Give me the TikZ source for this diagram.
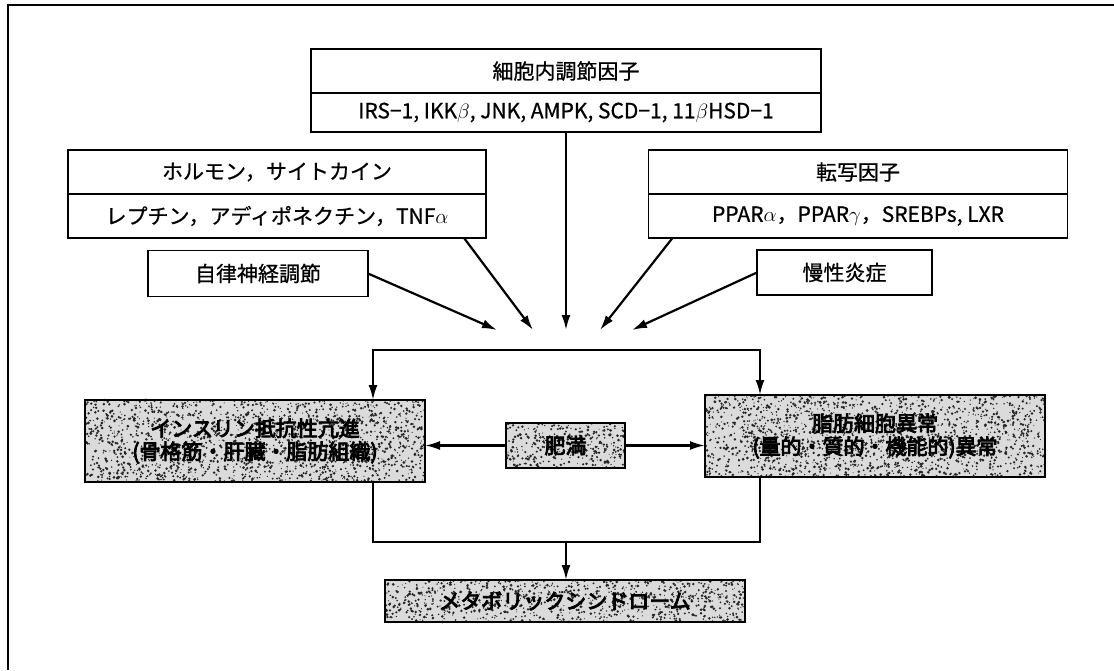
\documentclass[tikz,border=0pt]{standalone}
\usepackage{fontspec}
\setmainfont[FakeBold=0.7]{Noto Sans CJK JP}
\newfontfamily\cjkheavy[FakeBold=4]{Noto Sans CJK JP}
\usetikzlibrary{arrows.meta,calc}
\newcommand\mySpeckle[5]{%
  \foreach \k in {1,...,#5}{%
    \pgfmathsetmacro\px{#1+#3*rnd}%
    \pgfmathsetmacro\py{#2+#4*rnd}%
    \pgfmathsetmacro\rr{0.5+1.0*rnd}%
    \fill[black!85] (\px,\py) circle[radius=\rr pt];
  }}
\begin{document}
\begin{tikzpicture}[x=1pt,y=-1pt,
  every node/.style={inner sep=0pt,outer sep=0pt},
  txt/.style={font=\fontsize{21}{24}\selectfont},
  plainbox/.style={draw,line width=1.5pt,fill=white,txt},
  shadebox/.style={draw,line width=1.8pt,font=\cjkheavy\fontsize{21}{24}\selectfont,align=center},
  arr/.style={line width=2.2pt,-{Latex[length=15pt,width=9pt]}},
  link/.style={line width=2.2pt}]
\useasboundingbox (0,0) rectangle (1114,670);
\pgfmathsetseed{4711}
% frame
\draw[line width=1.5pt] (8,670) -- (8,5) -- (1114,5);

% upper boxes
\node[plainbox,minimum width=510pt,minimum height=44pt] (ciT) at (566,71) {細胞内調節因子};
\node[plainbox,minimum width=510pt,minimum height=39pt] (ciB) at (566,112.5) {IRS−1, IKK$\beta$, JNK, AMPK, SCD−1, 11$\beta$HSD−1};

\node[plainbox,minimum width=418pt,minimum height=44pt] (hT) at (277,172) {ホルモン，サイトカイン};
\node[plainbox,minimum width=418pt,minimum height=44pt] (hB) at (277,216) {レプチン，アディポネクチン，TNF$\alpha$};

\node[plainbox,minimum width=419pt,minimum height=44pt] (tT) at (858,172) {転写因子};
\node[plainbox,minimum width=419pt,minimum height=44pt] (tB) at (858,216) {PPAR$\alpha$，PPAR$\gamma$，SREBPs, LXR};

\node[plainbox,minimum width=220pt,minimum height=46pt] (jiritsu) at (258,273.5) {自律神経調節};
\node[plainbox,minimum width=175pt,minimum height=45pt] (mansei) at (844.5,272.5) {慢性炎症};

% arrows to the centre
\coordinate (tipA) at (497,330);
\coordinate (tipB) at (533,330);
\coordinate (tipC) at (566,330);
\coordinate (tipD) at (600,330);
\coordinate (tipE) at (632,330);
\draw[arr] (jiritsu.east) -- (tipA);
\draw[arr] ([xshift=-22pt]hB.south east) -- (tipB);
\draw[arr] (ciB.south) -- (tipC);
\draw[arr] ([xshift=24pt]tB.south west) -- (tipD);
\draw[arr] (mansei.west) -- (tipE);

% shaded boxes (background + speckles)
\fill[gray!28] (85,400) rectangle (425,482);
\mySpeckle{85}{400}{340}{82}{1700}
\fill[gray!28] (705,395) rectangle (1045,477);
\mySpeckle{705}{395}{340}{82}{1700}
\fill[gray!28] (506,423) rectangle (625,468);
\mySpeckle{506}{423}{119}{45}{330}
\fill[gray!28] (385,580) rectangle (745,622);
\mySpeckle{385}{580}{360}{42}{930}

\node[shadebox,minimum width=340pt,minimum height=82pt] (lbox) at (255,441)
  {インスリン抵抗性亢進\\[-1pt](骨格筋・肝臓・脂肪組織)};
\node[shadebox,minimum width=340pt,minimum height=82pt] (rbox) at (875,436)
  {脂肪細胞異常\\[-1pt](量的・質的・機能的)異常};
\node[shadebox,minimum width=119pt,minimum height=45pt] (obes) at (565.5,445.5) {肥満};
\node[shadebox,minimum width=360pt,minimum height=42pt] (mets) at (565,601) {メタボリックシンドローム};

% split
\coordinate (splitL) at (373,350);
\coordinate (splitR) at (760,350);
\draw[link] ([xshift=-1.1pt]splitL) -- ([xshift=1.1pt]splitR);
\draw[arr] (splitL) -- (splitL |- lbox.north);
\draw[arr] (splitR) -- (splitR |- rbox.north);

% obesity arrows
\draw[arr] (obes.west) -- (obes.west -| lbox.east);
\draw[arr] (obes.east) -- (obes.east -| rbox.west);

% merge
\coordinate (mergeL) at (373,542);
\coordinate (mergeR) at (760,542);
\coordinate (mergeC) at (566,542);
\draw[link,line join=miter] (mergeL |- lbox.south) -- (mergeL) -- (mergeR) -- (mergeR |- rbox.south);
\draw[arr] (mergeC) -- (mergeC |- mets.north);
\end{tikzpicture}
\end{document}
